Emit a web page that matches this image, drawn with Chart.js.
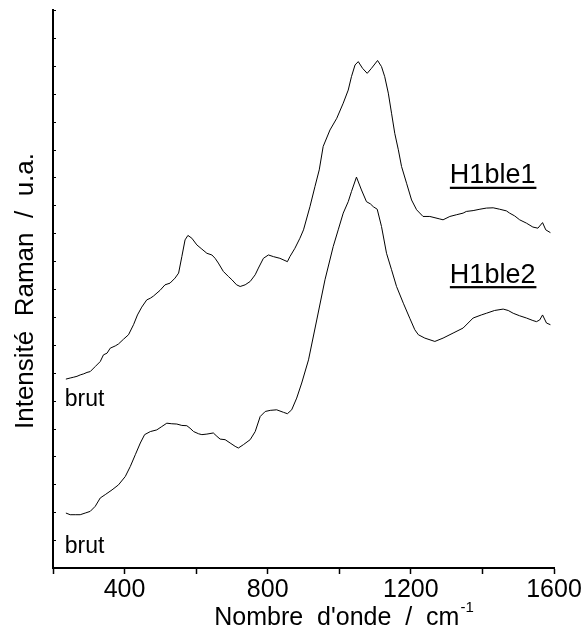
<!DOCTYPE html>
<html>
<head>
<meta charset="utf-8">
<script src="https://cdn.jsdelivr.net/npm/chart.js@4.4.1/dist/chart.umd.min.js"></script>
<style>
  html, body { margin: 0; padding: 0; background: #fff; }
  #wrap { width: 587px; height: 638px; }
</style>
</head>
<body>
<div id="wrap"><canvas id="chart" width="587" height="638"></canvas></div>
<script>
// ================= DATA =================
// H1ble1 (upper trace), wavenumber cm-1 / intensity a.u.
const wn1 = [236, 248, 258, 267, 276, 286, 295, 304, 318, 332, 341, 351, 360, 374, 383, 397, 411, 425, 436, 448,
  462, 472, 481, 499, 513, 527, 541, 551, 560, 569, 577, 588, 602, 616, 630, 644, 653, 662, 676, 690,
  700, 713, 723, 737, 751, 765, 774, 788, 802, 816, 834, 855, 862, 876, 890, 900, 918, 932, 944, 955,
  974, 993, 1011, 1025, 1034, 1044, 1053, 1065, 1078, 1090, 1107, 1118, 1127, 1137, 1146, 1155, 1165, 1174, 1188, 1202,
  1216, 1234, 1253, 1281, 1290, 1309, 1327, 1346, 1355, 1374, 1393, 1411, 1430, 1448, 1467, 1476, 1490, 1504, 1523, 1541,
  1555, 1568, 1577, 1590];
const int1 = [6.77, 6.81, 6.84, 6.87, 6.92, 6.96, 7.01, 7.04, 7.22, 7.40, 7.64, 7.70, 7.88, 7.96, 8.03, 8.20, 8.36, 8.72, 9.07, 9.35,
  9.61, 9.67, 9.75, 9.95, 10.15, 10.21, 10.39, 10.57, 11.16, 11.76, 11.92, 11.82, 11.58, 11.43, 11.28, 11.22, 11.10, 10.93, 10.63, 10.45,
  10.33, 10.15, 10.09, 10.15, 10.27, 10.51, 10.75, 11.10, 11.22, 11.16, 11.10, 10.98, 11.16, 11.46, 11.82, 12.12, 12.95, 13.67, 14.27, 15.11,
  15.70, 16.12, 16.66, 17.13, 17.61, 18.03, 18.15, 17.91, 17.73, 17.91, 18.19, 17.97, 17.61, 17.02, 16.30, 15.58, 14.99, 14.39, 13.79, 13.19,
  12.84, 12.60, 12.60, 12.51, 12.48, 12.60, 12.66, 12.72, 12.78, 12.81, 12.86, 12.90, 12.91, 12.86, 12.80, 12.72, 12.62, 12.48, 12.36, 12.22,
  12.18, 12.38, 12.12, 12.02];

// H1ble2 (lower trace)
const wn2 = [236, 248, 262, 276, 290, 304, 318, 332, 346, 365, 383, 402, 416, 430, 444, 456, 472, 490, 504, 518,
  532, 546, 560, 574, 583, 593, 607, 616, 630, 648, 658, 667, 681, 695, 709, 718, 732, 751, 765, 779,
  793, 807, 825, 844, 855, 867, 881, 895, 914, 937, 960, 983, 997, 1011, 1025, 1034, 1048, 1062, 1076, 1087,
  1095, 1106, 1118, 1132, 1146, 1160, 1179, 1197, 1211, 1221, 1239, 1267, 1290, 1318, 1346, 1374, 1397, 1411, 1434, 1458,
  1472, 1486, 1504, 1523, 1541, 1551, 1560, 1568, 1579, 1590];
const int2 = [1.97, 1.91, 1.91, 1.91, 1.97, 2.03, 2.21, 2.51, 2.63, 2.80, 2.98, 3.28, 3.64, 4.06, 4.48, 4.78, 4.89, 4.95, 5.07, 5.19,
  5.17, 5.16, 5.11, 5.10, 5.01, 4.89, 4.81, 4.78, 4.80, 4.84, 4.72, 4.62, 4.60, 4.48, 4.36, 4.30, 4.42, 4.60, 4.89, 5.43,
  5.61, 5.65, 5.67, 5.58, 5.53, 5.67, 6.09, 6.63, 7.46, 8.89, 10.33, 11.52, 12.12, 12.72, 13.13, 13.49, 14.01, 13.55, 13.13, 13.05,
  12.95, 12.86, 12.24, 11.28, 10.69, 10.09, 9.49, 8.95, 8.54, 8.36, 8.24, 8.12, 8.24, 8.42, 8.60, 8.96, 9.07, 9.13, 9.23, 9.28,
  9.23, 9.13, 9.04, 8.96, 8.87, 8.83, 8.89, 9.07, 8.78, 8.72];

// x axis ticks (cm-1), labelled every 400
const xMin = 200, xMax = 1600, xStep = 200;
const xLabelled = [400, 800, 1200, 1600];
// y axis: arbitrary units, unlabelled ticks
const yMin = 0, yMax = 20, yStep = 1;

// text notes placed in data coordinates
const notes = [
  { text: 'H1ble1', x: 1309, y: 13.79, underline: true },
  { text: 'H1ble2', x: 1309, y: 10.23, underline: true },
  { text: 'brut', x: 233, y: 5.81, underline: false },
  { text: 'brut', x: 233, y: 0.54, underline: false }
];

const FONT = 'Arial, "Liberation Sans", sans-serif';
Chart.defaults.font.family = FONT;
Chart.defaults.color = '#000';

const toPts = (xs, ys) => xs.map((x, i) => ({ x: x, y: ys[i] }));

// ================= PLUGIN: inner y ticks, titles, notes =================
const extras = {
  id: 'extras',
  afterDraw(chart) {
    const ctx = chart.ctx;
    const ca = chart.chartArea;
    const xs = chart.scales.x, ys = chart.scales.y;
    ctx.save();

    // y ticks pointing into the plot
    ctx.strokeStyle = '#000';
    ctx.lineWidth = 1;
    ys.ticks.forEach(t => {
      if (t.value === yMin) return;
      const py = Math.round(ys.getPixelForValue(t.value)) + 0.5;
      ctx.beginPath();
      ctx.moveTo(ca.left, py);
      ctx.lineTo(ca.left + 3, py);
      ctx.stroke();
    });

    // notes
    ctx.fillStyle = '#000';
    ctx.textAlign = 'left';
    ctx.textBaseline = 'alphabetic';
    notes.forEach(n => {
      ctx.font = (n.underline ? 27 : 23) + 'px ' + FONT;
      const px = xs.getPixelForValue(n.x);
      const py = ys.getPixelForValue(n.y);
      ctx.fillText(n.text, px, py);
      if (n.underline) {
        const w = ctx.measureText(n.text).width;
        ctx.fillRect(px, py + 3.5, w + 1, 2.2);
      }
    });

    // x title with superscript
    const main = "Nombre  d'onde  /  cm";
    ctx.font = '25px ' + FONT;
    const w1 = ctx.measureText(main).width;
    ctx.font = '15px ' + FONT;
    const w2 = ctx.measureText('-1').width;
    const cx = (ca.left + ca.right) / 2 + 40;
    const x0 = cx - (w1 + w2) / 2;
    const by = ca.bottom + 57;
    ctx.font = '25px ' + FONT;
    ctx.fillText(main, x0, by);
    ctx.font = '15px ' + FONT;
    ctx.fillText('-1', x0 + w1 + 1, by - 13);

    // y title
    ctx.font = '26px ' + FONT;
    ctx.translate(33, (ca.top + ca.bottom) / 2 + 2);
    ctx.rotate(-Math.PI / 2);
    ctx.textAlign = 'center';
    ctx.fillText('Intensité  Raman  /  u.a.', 0, 0);

    ctx.restore();
  }
};

// ================= CHART =================
new Chart(document.getElementById('chart'), {
  type: 'scatter',
  data: {
    datasets: [
      { label: 'H1ble1', data: toPts(wn1, int1) },
      { label: 'H1ble2', data: toPts(wn2, int2) }
    ]
  },
  options: {
    responsive: false,
    animation: false,
    showLine: true,
    elements: {
      point: { radius: 0, hoverRadius: 0 },
      line: { borderColor: '#000', borderWidth: 1, tension: 0, fill: false }
    },
    layout: { padding: { top: 10, right: 33, left: 0, bottom: 0 } },
    plugins: { legend: { display: false }, tooltip: { enabled: false } },
    scales: {
      x: {
        type: 'linear',
        min: xMin, max: xMax,
        afterFit: s => { s.height = 70; },
        ticks: {
          stepSize: xStep,
          autoSkip: false,
          maxRotation: 0,
          padding: 1,
          font: { size: 25 },
          color: '#000',
          callback: v => xLabelled.includes(v) ? String(v) : ''
        },
        grid: { drawOnChartArea: false, tickLength: 6, tickColor: '#000', tickWidth: 1.5 },
        border: { display: true, color: '#000', width: 2 }
      },
      y: {
        type: 'linear',
        min: yMin, max: yMax,
        afterFit: s => { s.width = 53; },
        ticks: { display: false, stepSize: yStep },
        grid: { display: false },
        border: { display: true, color: '#000', width: 2 }
      }
    }
  },
  plugins: [extras]
});
</script>
</body>
</html>
